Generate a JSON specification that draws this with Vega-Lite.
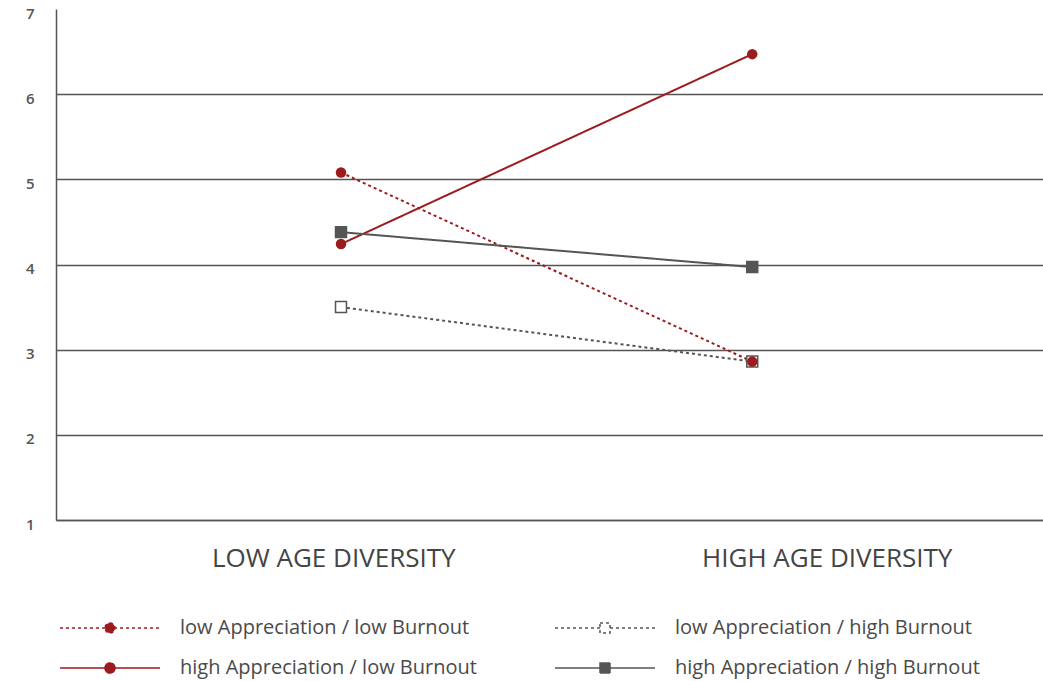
{
  "$schema": "https://vega.github.io/schema/vega-lite/v6.json",
  "width": 987,
  "height": 511,
  "autosize": "none",
  "padding": {"left": 56, "top": 9, "right": 0, "bottom": 161},
  "config": {
    "view": {"stroke": null},
    "font": "Open Sans",
    "legend": {
      "orient": "none",
      "legendX": 0,
      "legendY": 609,
      "columns": 2,
      "columnPadding": 66,
      "rowPadding": 20,
      "padding": 0,
      "symbolSize": 100,
      "symbolStrokeWidth": 1.5,
      "symbolOpacity": 1,
      "symbolOffset": 44,
      "labelOffset": 60,
      "labelFont": "Open Sans",
      "labelFontSize": 20,
      "labelColor": "#4a4a4a",
      "labelLimit": 0,
      "gridAlign": "all"
    }
  },
  "data": {
    "values": [
      {"series": "low Appreciation / low Burnout", "diversity": "LOW AGE DIVERSITY", "value": 5.08},
      {"series": "low Appreciation / low Burnout", "diversity": "HIGH AGE DIVERSITY", "value": 2.86},
      {"series": "high Appreciation / low Burnout", "diversity": "LOW AGE DIVERSITY", "value": 4.24},
      {"series": "high Appreciation / low Burnout", "diversity": "HIGH AGE DIVERSITY", "value": 6.47},
      {"series": "low Appreciation / high Burnout", "diversity": "LOW AGE DIVERSITY", "value": 3.5},
      {"series": "low Appreciation / high Burnout", "diversity": "HIGH AGE DIVERSITY", "value": 2.86},
      {"series": "high Appreciation / high Burnout", "diversity": "LOW AGE DIVERSITY", "value": 4.38},
      {"series": "high Appreciation / high Burnout", "diversity": "HIGH AGE DIVERSITY", "value": 3.97}
    ]
  },
  "layer": [
    {
      "encoding": {
        "x": {
          "field": "diversity",
          "type": "nominal",
          "sort": ["LOW AGE DIVERSITY", "HIGH AGE DIVERSITY"],
          "scale": {"type": "point", "padding": 0.7, "align": 0.495},
          "axis": null
        },
        "y": {
          "field": "value",
          "type": "quantitative",
          "scale": {"domain": [1, 7], "nice": false, "zero": false},
          "axis": {
            "title": null,
            "values": [1, 2, 3, 4, 5, 6, 7],
            "ticks": false,
            "domainColor": "#555555",
            "domainWidth": 1.5,
            "gridColor": "#555555",
            "gridWidth": 1.5,
            "gridOpacity": {"condition": {"test": "datum.value == 7", "value": 0}, "value": 1},
            "labelFont": "Open Sans",
            "labelFontSize": 15,
            "labelFontWeight": 600,
            "labelColor": "#555555",
            "labelPadding": 22,
            "labelOffset": 4
          }
        }
      },
      "layer": [
        {
          "mark": {"type": "line", "strokeWidth": 2},
          "encoding": {
            "detail": {"field": "series"},
            "stroke": {
              "condition": {"test": "indexof(datum.series, 'low Burnout') >= 0", "value": "#9c1b1f"},
              "value": "#555555"
            },
            "strokeDash": {
              "condition": {"test": "indexof(datum.series, 'low Appreciation') >= 0", "value": [3, 3]},
              "value": [1, 0]
            }
          }
        },
        {
          "transform": [{"filter": "indexof(datum.series, 'high Burnout') >= 0"}],
          "mark": {"type": "point", "shape": "square", "size": 120, "filled": true, "strokeWidth": 1.5, "opacity": 1},
          "encoding": {
            "fill": {
              "condition": {"test": "indexof(datum.series, 'low Appreciation') >= 0", "value": "#ffffff"},
              "value": "#555555"
            },
            "stroke": {"value": "#555555"}
          }
        },
        {
          "transform": [{"filter": "indexof(datum.series, 'low Burnout') >= 0"}],
          "mark": {"type": "point", "shape": "circle", "size": 110, "filled": true, "opacity": 1},
          "encoding": {
            "fill": {"value": "#9c1b1f"}
          }
        }
      ]
    },
    {
      "transform": [{"filter": "false"}],
      "mark": {"type": "point", "filled": true, "strokeWidth": 1.5, "opacity": 1},
      "encoding": {
        "shape": {
          "field": "series",
          "type": "nominal",
          "scale": {
            "domain": ["low Appreciation / low Burnout", "high Appreciation / low Burnout", "low Appreciation / high Burnout", "high Appreciation / high Burnout"],
            "range": [
              "M-10,0H10M0,-1A1,1,0,1,1,0,1A1,1,0,1,1,0,-1Z",
              "M-10,0H10M0,-1A1,1,0,1,1,0,1A1,1,0,1,1,0,-1Z",
              "M-10,0H-1M1,0H10M-1,-1H1V1H-1Z",
              "M-10,0H10M-1,-1H1V1H-1Z"
            ]
          },
          "legend": {"title": null}
        },
        "fill": {
          "field": "series",
          "type": "nominal",
          "scale": {
            "domain": ["low Appreciation / low Burnout", "high Appreciation / low Burnout", "low Appreciation / high Burnout", "high Appreciation / high Burnout"],
            "range": ["#9c1b1f", "#9c1b1f", "#ffffff", "#555555"]
          },
          "legend": {"title": null}
        },
        "stroke": {
          "field": "series",
          "type": "nominal",
          "scale": {
            "domain": ["low Appreciation / low Burnout", "high Appreciation / low Burnout", "low Appreciation / high Burnout", "high Appreciation / high Burnout"],
            "range": ["#9c1b1f", "#9c1b1f", "#555555", "#555555"]
          },
          "legend": {"title": null}
        },
        "strokeDash": {
          "field": "series",
          "type": "nominal",
          "scale": {
            "domain": ["low Appreciation / low Burnout", "high Appreciation / low Burnout", "low Appreciation / high Burnout", "high Appreciation / high Burnout"],
            "range": [[3, 3], [1, 0], [3, 3], [1, 0]]
          },
          "legend": {"title": null}
        }
      }
    },
    {
      "mark": {"type": "point", "opacity": 0},
      "encoding": {
        "x": {
          "field": "diversity",
          "type": "nominal",
          "sort": ["LOW AGE DIVERSITY", "HIGH AGE DIVERSITY"],
          "scale": {"type": "band", "paddingInner": 0, "paddingOuter": 0},
          "axis": {
            "title": null,
            "labelAngle": 0,
            "ticks": false,
            "grid": false,
            "domain": true,
            "domainColor": "#555555",
            "domainWidth": 1.5,
            "labelFont": "Open Sans",
            "labelFontSize": 26,
            "labelColor": "#444444",
            "labelPadding": 25,
            "labelOffset": 31,
            "labelLimit": 0
          }
        }
      }
    }
  ],
  "resolve": {"scale": {"x": "independent"}}
}
